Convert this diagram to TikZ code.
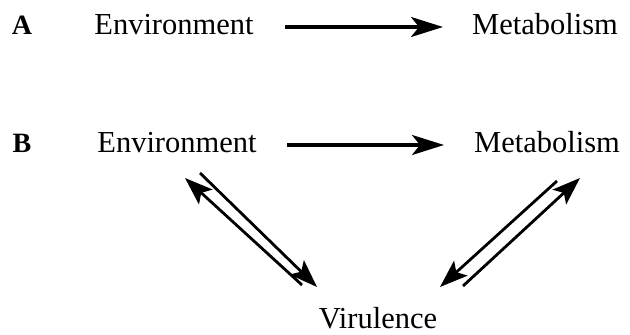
\documentclass[tikz,border=0pt]{standalone}
\usepackage{fontspec}
\setmainfont{Liberation Serif}
\usetikzlibrary{arrows.meta}
\begin{document}
\begin{tikzpicture}[x=1pt,y=1pt,
  lbl/.style={inner sep=0pt,anchor=base,font=\fontsize{30.5}{36}\selectfont},
  tag/.style={inner sep=0pt,anchor=base,font=\fontsize{28}{34}\selectfont\bfseries},
  harrow/.style={line width=3.2pt,-{Stealth[length=32pt,width=20pt,inset=8pt]}},
  darrow/.style={line width=2.8pt,-{Stealth[length=28pt,width=20pt,inset=6pt]}}]
\useasboundingbox (0,0) rectangle (630,335);
% row A
\node[tag] (tA) at (22,300) {A};
\node[lbl] (envA) at (174,300) {Environment};
\node[lbl] (metA) at (545,300) {Metabolism};
\coordinate (a1) at (285,308);
\coordinate (a2) at (443,308);
\draw[harrow] (a1) -- (a2);
% row B
\node[tag] (tB) at (22,182) {B};
\node[lbl] (envB) at (177,182) {Environment};
\node[lbl] (metB) at (547,182) {Metabolism};
\node[lbl,text depth=0pt] (vir) at (378,6) {Virulence};
\coordinate (b1) at (287,190);
\coordinate (b2) at (444,190);
\draw[harrow] (b1) -- (b2);
% left pair
\coordinate (l1s) at (302,50);
\coordinate (l1e) at (185,157);
\coordinate (l2s) at (200,162);
\coordinate (l2e) at (317,48);
\draw[darrow] (l1s) -- (l1e);
\draw[darrow] (l2s) -- (l2e);
% right pair
\coordinate (r1s) at (557,154);
\coordinate (r1e) at (440,48);
\coordinate (r2s) at (463,49);
\coordinate (r2e) at (580,157);
\draw[darrow] (r1s) -- (r1e);
\draw[darrow] (r2s) -- (r2e);
\end{tikzpicture}
\end{document}
